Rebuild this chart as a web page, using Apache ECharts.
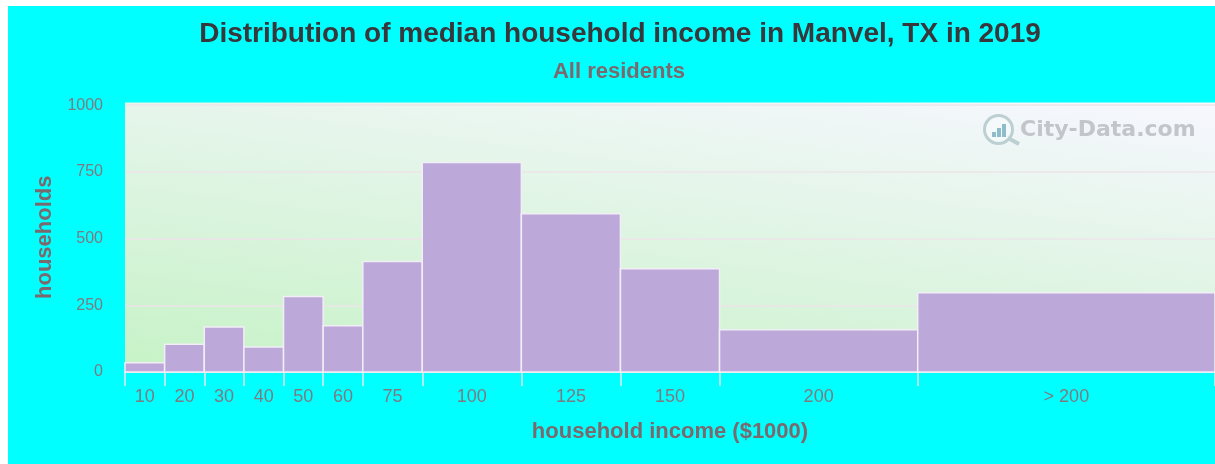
<!DOCTYPE html>
<html>
<head>
<meta charset="utf-8">
<title>Manvel household income</title>
<script src="https://cdn.jsdelivr.net/npm/echarts@6/dist/echarts.min.js"></script>
<style>
  html, body { margin: 0; padding: 0; background: #fff; }
  #chart { position: absolute; left: 8px; top: 6px; width: 1207px; height: 458px; }
</style>
</head>
<body>
<div id="chart"></div>
<script>
// bin edges in $1000, the last bin is drawn 75 wide
const binEdges = [0, 10, 20, 30, 40, 50, 60, 75, 100, 125, 150, 200, 275]
const binLabels = ['10', '20', '30', '40', '50', '60', '75', '100', '125', '150', '200', '> 200']
const households = [35, 104, 169, 94, 283, 173, 414, 785, 593, 387, 158, 297]

const titleText = 'Distribution of median household income in Manvel, TX in 2019'
const subtitleText = 'All residents'

const binCenters = binLabels.map((_, i) => (binEdges[i] + binEdges[i + 1]) / 2)
const binData = households.map((v, i) => [binEdges[i], binEdges[i + 1], v])

const myChart = echarts.init(document.getElementById('chart'))

/* one rect per income bin */
function renderBin(params, api) {
  const p0 = api.coord([api.value(0), api.value(2)])
  const p1 = api.coord([api.value(1), 0])
  return {
    type: 'rect',
    shape: { x: p0[0], y: p0[1], width: p1[0] - p0[0], height: p1[1] - p0[1] },
    style: { fill: '#bda8da', stroke: '#f1eef6', lineWidth: 1.5 }
  }
}

myChart.setOption({
  backgroundColor: '#00ffff',
  animation: false,
  title: [
    {
      text: titleText,
      left: 607, top: 9, textAlign: 'center',
      textStyle: { fontFamily: 'Liberation Sans', fontSize: 28, fontWeight: 'bold', color: '#38383c' }
    },
    {
      text: subtitleText,
      left: 606, top: 50, textAlign: 'center',
      textStyle: { fontFamily: 'Liberation Sans', fontSize: 22, fontWeight: 'bold', color: '#7a6a6e' }
    }
  ],
  grid: {
    show: true,
    left: 117, right: 0, top: 96.5, height: 269.5,
    borderWidth: 0,
    backgroundColor: new echarts.graphic.LinearGradient(117, 366, 171, -41, [
      { offset: 0, color: '#c6f2c6' },
      { offset: 1, color: '#f7f7ff' }
    ], true)
  },
  xAxis: {
    type: 'value',
    min: 0, max: 275,
    name: 'household income ($1000)',
    nameLocation: 'middle',
    nameGap: 49,
    nameTextStyle: { fontFamily: 'Liberation Sans', fontSize: 22, fontWeight: 'bold', color: '#7a6a6e' },
    splitLine: { show: false },
    axisLine: { show: true, lineStyle: { color: '#e4e8ee', width: 1.5 } },
    axisTick: { show: true, length: 14, customValues: binEdges, lineStyle: { color: '#e4e8ee', width: 1.5 } },
    axisLabel: {
      customValues: binCenters,
      margin: 16,
      fontFamily: 'Liberation Sans', fontSize: 18, color: '#7b7b82',
      formatter: v => binLabels[binCenters.indexOf(v)]
    }
  },
  yAxis: {
    type: 'value',
    min: 0, max: 1010,
    interval: 250,
    name: 'households',
    nameLocation: 'middle',
    nameGap: 69,
    nameTextStyle: { fontFamily: 'Liberation Sans', fontSize: 22, fontWeight: 'bold', color: '#7a6a6e' },
    axisLine: { show: false },
    axisTick: { show: false },
    splitLine: { show: true, showMaxLine: false, lineStyle: { color: '#ece4e8', width: 1.5 } },
    axisLabel: {
      showMaxLabel: false,
      margin: 22,
      fontFamily: 'Liberation Sans', fontSize: 16, color: '#7b7b82',
      formatter: v => String(v)
    }
  },
  series: [{
    type: 'custom',
    renderItem: renderBin,
    encode: { x: [0, 1], y: 2 },
    data: binData,
    z: 3
  }],
  // watermark top right
  graphic: [
    {
      type: 'text', left: 1012, top: 113, z: 5,
      style: { text: 'City-Data.com', fontFamily: 'DejaVu Sans', fontWeight: 'bold', fontSize: 22, fill: '#c2c6ca' }
    },
    {
      type: 'circle', left: 975, top: 108, z: 5,
      shape: { r: 14 },
      style: { fill: 'rgba(255,255,255,0.3)', stroke: '#bccfd3', lineWidth: 3 }
    },
    {
      type: 'line', z: 5,
      shape: { x1: 1000, y1: 132, x2: 1011, y2: 138 },
      style: { stroke: '#bccfd3', lineWidth: 4 }
    },
    { type: 'rect', left: 984, top: 126, z: 6, shape: { width: 4, height: 5 }, style: { fill: '#8fbcca' } },
    { type: 'rect', left: 989, top: 122, z: 6, shape: { width: 4, height: 9 }, style: { fill: '#8fbcca' } },
    { type: 'rect', left: 994, top: 118, z: 6, shape: { width: 4, height: 13 }, style: { fill: '#8fbcca' } }
  ]
})
</script>
</body>
</html>
